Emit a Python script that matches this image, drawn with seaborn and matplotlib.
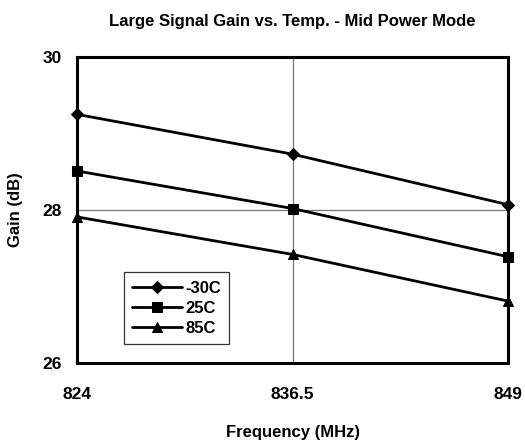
import numpy as np
import pandas as pd
import matplotlib
matplotlib.use('Agg')
import matplotlib.pyplot as plt
import seaborn as sns

# Gain data
freq = [824, 836.5, 849]
temps = ['-30C', '25C', '85C']
gain_m30 = [29.25, 28.73, 28.07]
gain_25 = [28.51, 28.02, 27.39]
gain_85 = [27.91, 27.42, 26.81]
x_ticks = [824, 836.5, 849]
x_labels = ['824', '836.5', '849']
y_ticks = [26, 28, 30]

data = pd.DataFrame({
    'freq': freq * 3,
    'gain': gain_m30 + gain_25 + gain_85,
    'temp': [t for t in temps for _ in freq],
})

sns.set_style('white')
plt.rcParams['font.family'] = ['Liberation Sans', 'DejaVu Sans']
plt.rcParams['font.weight'] = 'bold'
plt.rcParams['text.color'] = 'black'
plt.rcParams['xtick.color'] = 'black'
plt.rcParams['ytick.color'] = 'black'
plt.rcParams['axes.labelcolor'] = 'black'

fig = plt.figure(figsize=(5.25, 4.45), dpi=100)
ax = fig.add_axes([0.1467, 0.184, 0.821, 0.688])

sns.lineplot(data=data, x='freq', y='gain', hue='temp', style='temp',
             palette=['black'] * 3, markers=['D', 's', '^'], dashes=False,
             markersize=6.5, linewidth=2, markeredgecolor='black', ax=ax)
for ln in ax.lines:
    ln.set_clip_on(False)

ax.set_xlim(824, 849)
ax.set_ylim(26, 30)
ax.set_xticks(x_ticks)
ax.set_xticklabels(x_labels)
ax.set_yticks(y_ticks)
ax.grid(True, color='#777777', linewidth=0.9)
ax.set_axisbelow(True)

for s in ax.spines.values():
    s.set_color('black')
    s.set_linewidth(2.2)
ax.tick_params(axis='y', direction='out', length=7, width=2, labelsize=12.5, pad=4)
ax.tick_params(axis='x', direction='inout', length=10, width=2, labelsize=12.5, pad=12)

ax.set_title('Large Signal Gain vs. Temp. - Mid Power Mode', fontsize=12,
             fontweight='bold', pad=22)
ax.set_xlabel('Frequency (MHz)', fontsize=12, fontweight='bold', labelpad=17)
ax.set_ylabel('Gain (dB)', fontsize=12, fontweight='bold', labelpad=14)

leg = ax.legend(loc='upper left', bbox_to_anchor=(0.108, 0.297), frameon=True,
                fancybox=False, edgecolor='black', fontsize=12, handlelength=3.0,
                borderpad=0.5, labelspacing=0.3, handletextpad=0.2,
                borderaxespad=0)
leg.get_frame().set_linewidth(0.9)

fig.savefig('out.png', dpi=100)
